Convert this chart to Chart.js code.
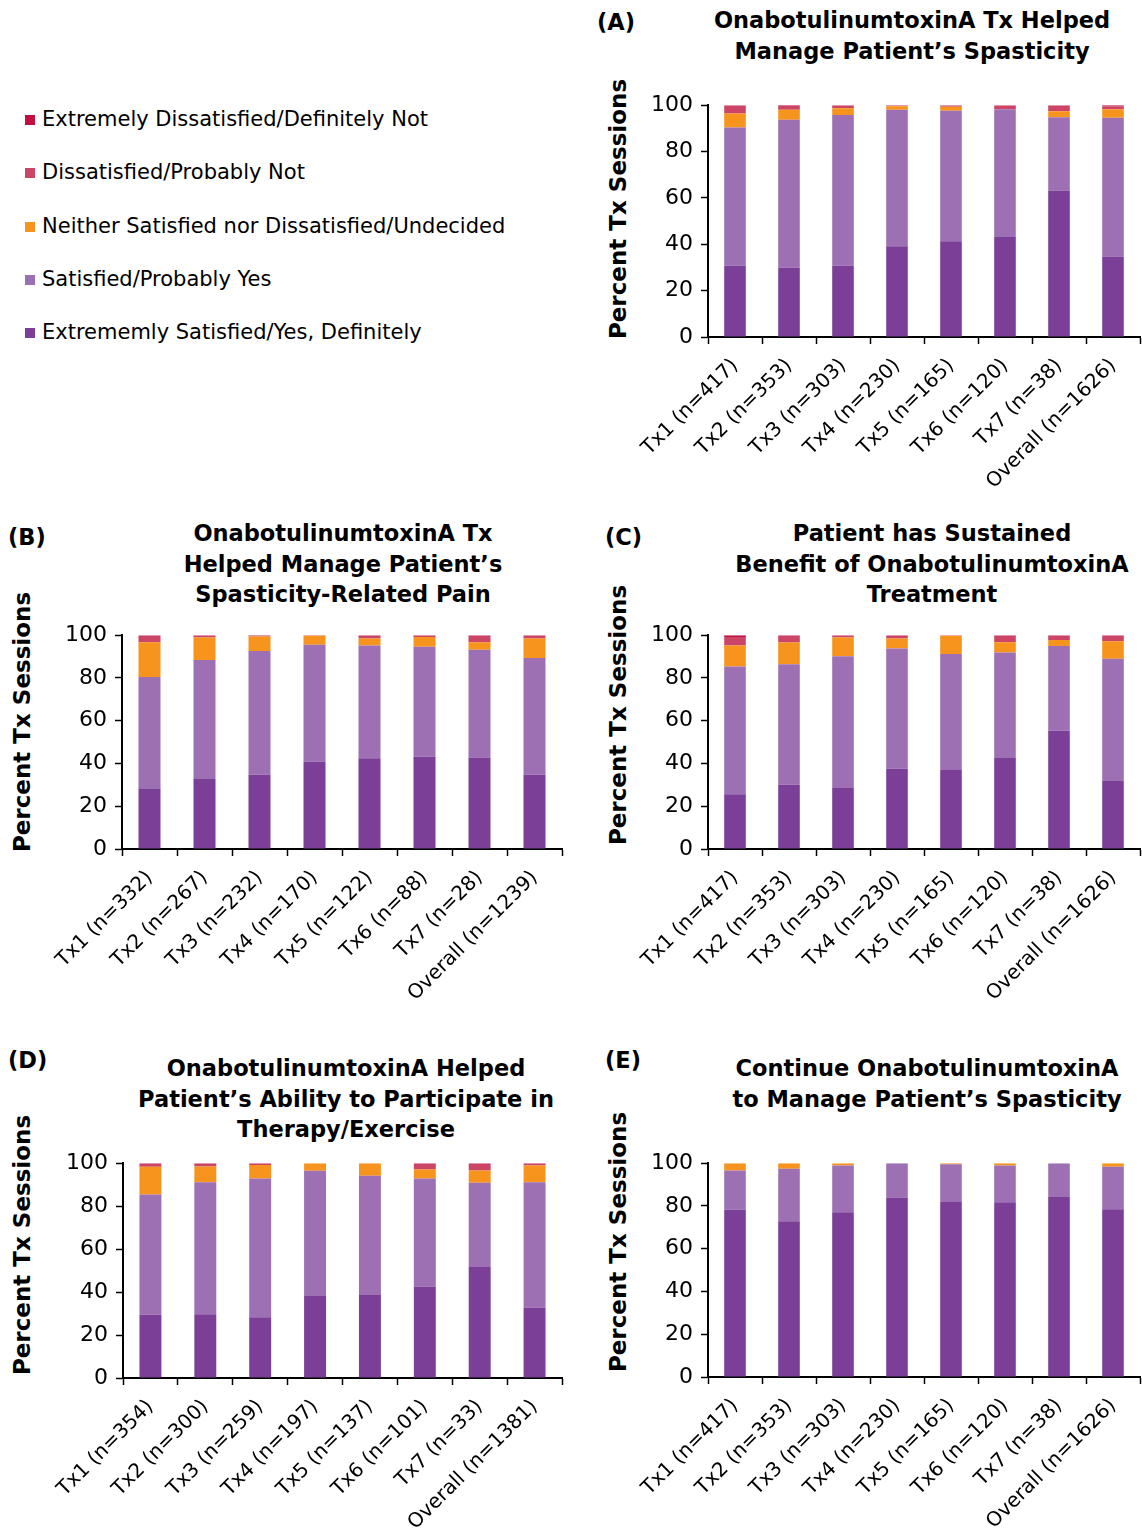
<!DOCTYPE html>
<html>
<head>
<meta charset="utf-8">
<script src="https://cdn.jsdelivr.net/npm/chart.js@4/dist/chart.umd.min.js"></script>
<style>
    body { margin: 0; background: #fff; width: 1142px; height: 1530px; position: relative; overflow: hidden;
           font-family: "DejaVu Sans", sans-serif; color: #000; }
    canvas { position: absolute; }
    .ttl { position: absolute; font-weight: bold; font-size: 22.5px; line-height: 30.5px; text-align: center;
           white-space: nowrap; transform: translateX(-50%); }
    .tag { position: absolute; font-weight: bold; font-size: 22.5px; line-height: 26px; }
    .ytl { position: absolute; font-weight: bold; font-size: 23px; line-height: 28px; white-space: nowrap;
           transform: translate(-50%, -50%) rotate(-90deg); }
    .leg { position: absolute; left: 25px; font-size: 21px; line-height: 26px; white-space: nowrap; }
    .leg span { display: inline-block; width: 10px; height: 10px; margin-right: 7px; vertical-align: 1px; }
</style>
</head>
<body>

<div class="tag" style="left:597px;top:9px">(A)</div>
<div class="ttl" style="left:912px;top:5px">OnabotulinumtoxinA Tx Helped<br>Manage Patient’s Spasticity</div>
<div class="tag" style="left:8px;top:524px">(B)</div>
<div class="ttl" style="left:343px;top:518px">OnabotulinumtoxinA Tx<br>Helped Manage Patient’s<br>Spasticity-Related Pain</div>
<div class="tag" style="left:605px;top:524px">(C)</div>
<div class="ttl" style="left:932px;top:518px">Patient has Sustained<br>Benefit of OnabotulinumtoxinA<br>Treatment</div>
<div class="tag" style="left:8px;top:1047px">(D)</div>
<div class="ttl" style="left:346px;top:1053px">OnabotulinumtoxinA Helped<br>Patient’s Ability to Participate in<br>Therapy/Exercise</div>
<div class="tag" style="left:605px;top:1047px">(E)</div>
<div class="ttl" style="left:927px;top:1053px">Continue OnabotulinumtoxinA<br>to Manage Patient’s Spasticity</div>

<div class="ytl" style="left:618px;top:209px">Percent Tx Sessions</div>
<div class="ytl" style="left:22px;top:722px">Percent Tx Sessions</div>
<div class="ytl" style="left:618px;top:715px">Percent Tx Sessions</div>
<div class="ytl" style="left:22px;top:1245px">Percent Tx Sessions</div>
<div class="ytl" style="left:618px;top:1242px">Percent Tx Sessions</div>

<div id="legend"></div>

<canvas id="chartA"></canvas>
<canvas id="chartB"></canvas>
<canvas id="chartC"></canvas>
<canvas id="chartD"></canvas>
<canvas id="chartE"></canvas>

<script>
// --- DATA ---
// series order is bottom of the stack to top
const seriesNames = ['Extrememly Satisfied/Yes, Definitely', 'Satisfied/Probably Yes',
    'Neither Satisfied nor Dissatisfied/Undecided', 'Dissatisfied/Probably Not',
    'Extremely Dissatisfied/Definitely Not'];
const seriesColors = ['#7b3f98', '#9d70b4', '#f7941d', '#cc4466', '#c0103f'];

const yTicks = [0, 20, 40, 60, 80, 100];

const labelsACE = ['Tx1 (n=417)', 'Tx2 (n=353)', 'Tx3 (n=303)', 'Tx4 (n=230)', 'Tx5 (n=165)', 'Tx6 (n=120)', 'Tx7 (n=38)', 'Overall (n=1626)'];
const labelsB = ['Tx1 (n=332)', 'Tx2 (n=267)', 'Tx3 (n=232)', 'Tx4 (n=170)', 'Tx5 (n=122)', 'Tx6 (n=88)', 'Tx7 (n=28)', 'Overall (n=1239)'];
const labelsD = ['Tx1 (n=354)', 'Tx2 (n=300)', 'Tx3 (n=259)', 'Tx4 (n=197)', 'Tx5 (n=137)', 'Tx6 (n=101)', 'Tx7 (n=33)', 'Overall (n=1381)'];

// (A) helped manage spasticity
const aExtSat = [30.7, 29.9, 30.7, 39.1, 41.3, 43.1, 63.2, 34.7];
const aSat    = [59.7, 63.8, 65.1, 58.9, 56.3, 55.2, 31.6, 59.9];
const aNeith  = [6.0, 4.3, 2.9, 1.6, 1.7, 0, 2.6, 3.7];
const aDis    = [3.6, 1.7, 1.3, 0.4, 0.7, 1.7, 2.6, 1.3];
const aExtDis = [0, 0.3, 0, 0, 0, 0, 0, 0.4];

// (B) spasticity-related pain
const bExtSat = [28.1, 32.7, 34.7, 40.8, 42.5, 43.1, 42.8, 34.7];
const bSat    = [52.4, 55.7, 57.9, 54.7, 52.7, 51.5, 50.4, 54.6];
const bNeith  = [16.2, 10.5, 6.8, 4.2, 3.2, 4.5, 3.5, 9.1];
const bDis    = [3.3, 1.1, 0.6, 0.3, 1.6, 0.9, 3.3, 1.6];
const bExtDis = [0, 0, 0, 0, 0, 0, 0, 0];

// (C) sustained benefit
const cExtSat = [25.6, 30.1, 28.5, 37.5, 36.9, 42.6, 55.3, 31.8];
const cSat    = [59.8, 56.3, 61.6, 56.3, 54.3, 49.3, 39.7, 57.2];
const cNeith  = [9.8, 10.2, 8.8, 4.6, 8.5, 4.8, 2.7, 8.2];
const cDis    = [3.9, 3.1, 1.1, 1.6, 0.3, 3.3, 2.3, 2.8];
const cExtDis = [0.9, 0.3, 0, 0, 0, 0, 0, 0];

// (D) therapy/exercise
const dExtSat = [29.4, 29.7, 28.3, 38.2, 38.6, 42.6, 51.7, 32.8];
const dSat    = [56.0, 61.4, 64.6, 58.3, 55.6, 50.3, 39.2, 58.3];
const dNeith  = [12.9, 7.4, 6.3, 3.5, 5.8, 4.2, 5.7, 7.8];
const dDis    = [1.7, 1.5, 0.8, 0, 0, 2.9, 3.4, 1.1];
const dExtDis = [0, 0, 0, 0, 0, 0, 0, 0];

// (E) continue treatment
const eExtSat = [78.2, 72.8, 77.1, 83.9, 81.9, 81.7, 84.2, 78.5];
const eSat    = [18.4, 24.6, 21.8, 16.1, 17.6, 17.2, 15.8, 19.8];
const eNeith  = [3.4, 2.6, 1.1, 0, 0.5, 1.1, 0, 1.7];
const eDis    = [0, 0, 0, 0, 0, 0, 0, 0];
const eExtDis = [0, 0, 0, 0, 0, 0, 0, 0];

// --- LEGEND (top-left, listed top of stack first) ---
const legendTops = [106, 159, 213, 266, 319];
const legendBox = document.getElementById('legend');
for (let i = seriesNames.length - 1, row = 0; i >= 0; i--, row++) {
    const div = document.createElement('div');
    div.className = 'leg';
    div.style.top = legendTops[row] + 'px';
    div.innerHTML = '<span style="background:' + seriesColors[i] + '"></span>' + seriesNames[i];
    legendBox.appendChild(div);
}

// --- CHARTS ---
function makePanel(id, box, labels, series) {
    const canvas = document.getElementById(id);
    const padTop = 20;
    const xAxisH = 190;
    canvas.style.left = box.left + 'px';
    canvas.style.top = (box.plotTop - padTop) + 'px';
    canvas.width = box.plotRight + 2 - box.left;
    canvas.height = box.plotBottom - box.plotTop + padTop + xAxisH;

    new Chart(canvas.getContext('2d'), {
        type: 'bar',
        data: {
            labels: labels,
            datasets: series.map((vals, i) => ({
                label: seriesNames[i],
                data: vals,
                backgroundColor: seriesColors[i],
                borderWidth: 0,
                barPercentage: 0.4,
                categoryPercentage: 1
            }))
        },
        options: {
            responsive: false,
            animation: false,
            layout: { padding: { top: padTop, right: 2, left: 0, bottom: 0 } },
            plugins: { legend: { display: false }, tooltip: { enabled: false } },
            scales: {
                x: {
                    stacked: true,
                    offset: true,
                    afterFit: s => { s.height = xAxisH; },
                    grid: { offset: true, drawOnChartArea: false, tickLength: 7, tickColor: '#000', tickWidth: 1.5 },
                    border: { color: '#000', width: 2 },
                    ticks: {
                        autoSkip: false, maxRotation: 45, minRotation: 45, padding: 10,
                        color: '#000', font: { family: 'DejaVu Sans', size: 20 }
                    }
                },
                y: {
                    stacked: true,
                    min: 0, max: 100,
                    afterFit: s => { s.width = box.plotLeft - box.left; },
                    afterBuildTicks: s => { s.ticks = yTicks.map(v => ({ value: v })); },
                    grid: { drawOnChartArea: false, tickLength: 7, tickColor: '#000', tickWidth: 1.5 },
                    border: { color: '#000', width: 2 },
                    ticks: { padding: 8, color: '#000', font: { family: 'DejaVu Sans', size: 22 } }
                }
            }
        }
    });
}

makePanel('chartA', { left: 600, plotLeft: 708, plotRight: 1140, plotTop: 104, plotBottom: 337 },
    labelsACE, [aExtSat, aSat, aNeith, aDis, aExtDis]);
makePanel('chartB', { left: 4, plotLeft: 122, plotRight: 562, plotTop: 634, plotBottom: 849 },
    labelsB, [bExtSat, bSat, bNeith, bDis, bExtDis]);
makePanel('chartC', { left: 600, plotLeft: 708, plotRight: 1140, plotTop: 634, plotBottom: 849 },
    labelsACE, [cExtSat, cSat, cNeith, cDis, cExtDis]);
makePanel('chartD', { left: 4, plotLeft: 123, plotRight: 562, plotTop: 1162, plotBottom: 1378 },
    labelsD, [dExtSat, dSat, dNeith, dDis, dExtDis]);
makePanel('chartE', { left: 600, plotLeft: 708, plotRight: 1140, plotTop: 1162, plotBottom: 1377 },
    labelsACE, [eExtSat, eSat, eNeith, eDis, eExtDis]);
</script>
</body>
</html>
